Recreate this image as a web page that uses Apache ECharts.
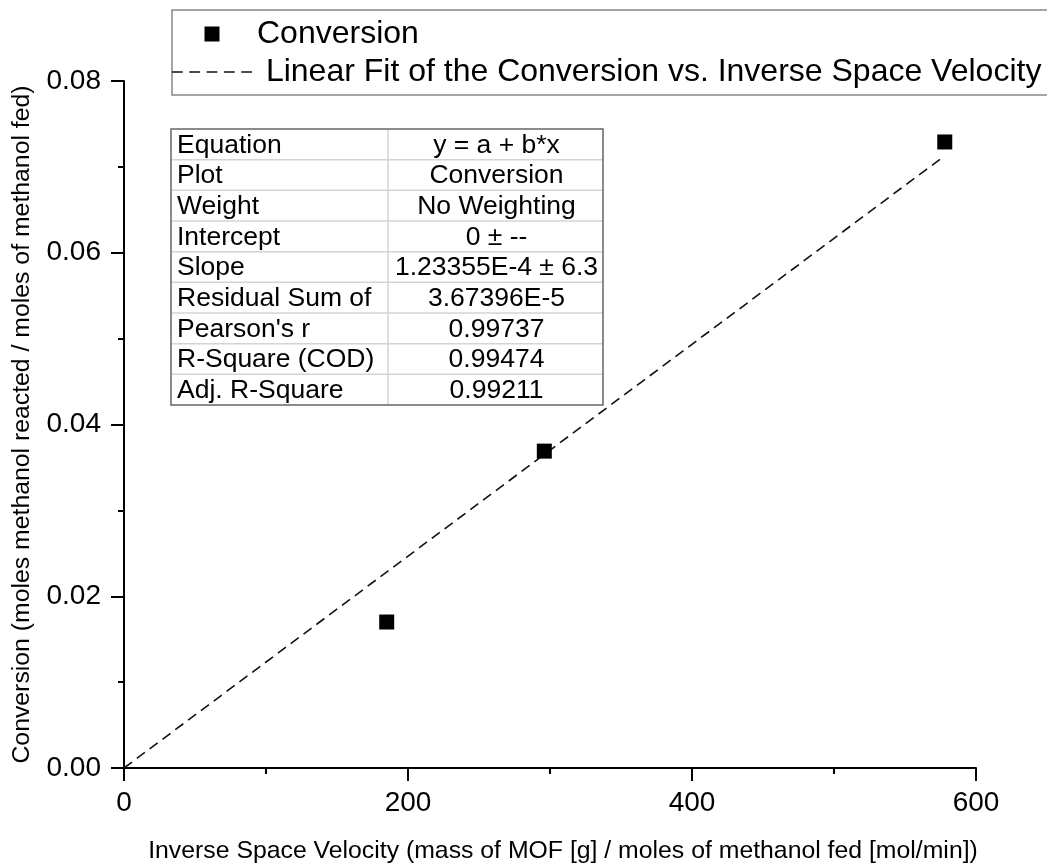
<!DOCTYPE html>
<html><head><meta charset="utf-8">
<script src="https://cdn.jsdelivr.net/npm/echarts@6/dist/echarts.min.js"></script>
<style>html,body{margin:0;padding:0;background:#fff}#c{width:1047px;height:865px}</style>
</head><body><div id="c"></div>
<script>
// ---- data ----
const seriesName = 'Conversion';
const fitName = 'Linear Fit of the Conversion vs. Inverse Space Velocity';
const xValues = [185, 296, 578];
const yValues = [0.0170, 0.0369, 0.0729];
const fitX = [0, 578];
const fitY = [0, 0.0713];
const xTickValues = [0, 200, 400, 600];
const yTickValues = [0.00, 0.02, 0.04, 0.06, 0.08];
const xAxisName = 'Inverse Space Velocity (mass of MOF [g] / moles of methanol fed [mol/min])';
const yAxisName = 'Conversion (moles methanol reacted / moles of methanol fed)';
const tableLabels = ['Equation', 'Plot', 'Weight', 'Intercept', 'Slope', 'Residual Sum of', "Pearson's r", 'R-Square (COD)', 'Adj. R-Square'];
const tableValues = ['y = a + b*x', 'Conversion', 'No Weighting', '0 \u00b1 --', '1.23355E-4 \u00b1 6.3', '3.67396E-5', '0.99737', '0.99474', '0.99211'];

const FONT = "'Liberation Sans', Arial, sans-serif";
const chart = echarts.init(document.getElementById('c'), null, {renderer: 'canvas'});

// table graphic
const T = {x: 171, y: 129, w: 432, h: 276, col: 217};
const rowH = T.h / tableLabels.length;
const tableChildren = [];
tableChildren.push({type: 'rect', shape: {x: T.x, y: T.y, width: T.w, height: T.h}, style: {fill: '#fff'}});
for (let i = 1; i < tableLabels.length; i++) {
  tableChildren.push({type: 'line', shape: {x1: T.x, y1: T.y + i * rowH, x2: T.x + T.w, y2: T.y + i * rowH}, style: {stroke: '#d4d4d4', lineWidth: 1.5}});
}
tableChildren.push({type: 'line', shape: {x1: T.x + T.col, y1: T.y, x2: T.x + T.col, y2: T.y + T.h}, style: {stroke: '#d4d4d4', lineWidth: 1.5}});
tableChildren.push({type: 'rect', shape: {x: T.x, y: T.y, width: T.w, height: T.h}, style: {fill: 'none', stroke: '#666', lineWidth: 1.5}});
tableLabels.forEach((t, i) => {
  tableChildren.push({type: 'text', x: T.x + 6, y: T.y + (i + 0.5) * rowH + 1,
    style: {text: t, font: '26.5px ' + FONT, fill: '#000', textAlign: 'left', textVerticalAlign: 'middle'}});
});
tableValues.forEach((t, i) => {
  tableChildren.push({type: 'text', x: T.x + T.col + (T.w - T.col) / 2 + 1, y: T.y + (i + 0.5) * rowH + 1,
    style: {text: t, font: '26.5px ' + FONT, fill: '#000', textAlign: 'center', textVerticalAlign: 'middle'}});
});

const axisCommon = {
  axisLine: {show: true, onZero: false, lineStyle: {color: '#000', width: 2}},
  axisTick: {show: true, inside: false, length: 13, lineStyle: {color: '#000', width: 2}},
  minorTick: {show: true, splitNumber: 2, length: 6, lineStyle: {color: '#000', width: 2}},
  splitLine: {show: false},
  minorSplitLine: {show: false},
  nameLocation: 'middle'
};

// dashed legend icon (5 dashes)
const dashIcon = 'path://M0,0h10v1.6h-10z M16,0h10v1.6h-10z M32,0h10v1.6h-10z M48,0h10v1.6h-10z M64,0h10v1.6h-10z';

chart.setOption({
  backgroundColor: '#fff',
  animation: false,
  grid: {left: 124, right: 71, top: 81, bottom: 97, containLabel: false, outerBoundsMode: 'none'},
  legend: {
    orient: 'vertical', left: 172, top: 10,
    padding: [8, 60, 7, 0],
    itemGap: 6, itemWidth: 80, itemHeight: 15,
    borderColor: '#888', borderWidth: 1.5, backgroundColor: '#fff',
    textStyle: {fontFamily: FONT, fontSize: 32, color: '#000', lineHeight: 32},
    formatter: n => n === fitName ? ' ' + n : n,
    data: [
      {name: seriesName, icon: 'path://M0,0L10,0L10,10L0,10Z', itemStyle: {color: '#000'}},
      {name: fitName, icon: dashIcon, itemStyle: {color: '#111', borderWidth: 0}}
    ]
  },
  xAxis: Object.assign({}, axisCommon, {
    type: 'value', min: 0, max: 600, interval: 200,
    name: xAxisName, nameGap: 71,
    nameTextStyle: {fontFamily: FONT, fontSize: 24.8, color: '#000', padding: [0, 0, 0, 26]},
    axisLabel: {fontFamily: FONT, fontSize: 28, color: '#000', margin: 21,
      formatter: v => xTickValues.includes(v) ? String(v) : ''}
  }),
  yAxis: Object.assign({}, axisCommon, {
    type: 'value', min: 0, max: 0.08, interval: 0.02,
    name: yAxisName, nameGap: 89, nameRotate: 90,
    nameTextStyle: {fontFamily: FONT, fontSize: 24.8, color: '#000'},
    axisLabel: {fontFamily: FONT, fontSize: 28, color: '#000', margin: 23,
      formatter: v => yTickValues.some(t => Math.abs(t - v) < 1e-9) ? v.toFixed(2) : ''}
  }),
  series: [
    {
      name: fitName, type: 'line', symbol: 'none', silent: true, z: 2,
      data: fitX.map((x, i) => [x, fitY[i]]),
      lineStyle: {color: '#111', width: 1.6, type: [10, 6]},
      itemStyle: {color: '#111'}
    },
    {
      name: seriesName, type: 'scatter', symbol: 'rect', symbolSize: 15, z: 3,
      data: xValues.map((x, i) => [x, yValues[i]]),
      itemStyle: {color: '#000', opacity: 1}
    }
  ],
  graphic: [{type: 'group', z: 100, children: tableChildren}]
});
</script>
</body></html>
